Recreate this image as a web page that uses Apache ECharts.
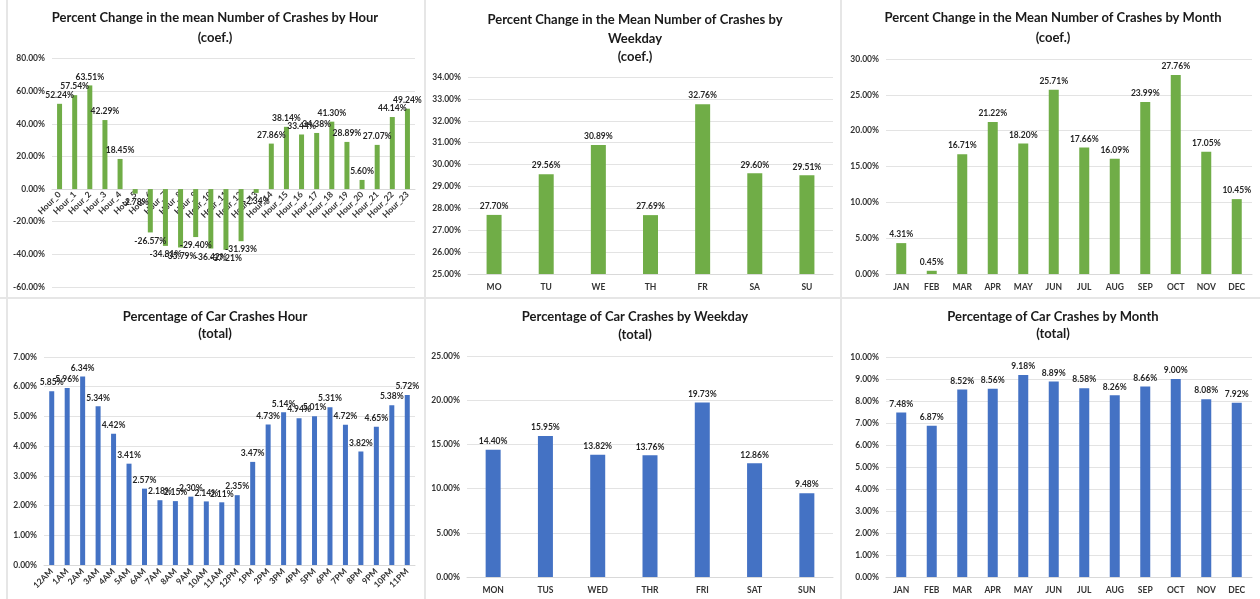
<!DOCTYPE html>
<html>
<head>
<meta charset="utf-8">
<script src="https://cdn.jsdelivr.net/npm/echarts@6/dist/echarts.min.js"></script>
<style>
html,body{margin:0;padding:0;background:#fff;}
#c{width:1260px;height:599px;}
</style>
</head>
<body>
<div id="c"></div>
<script>
const hourCoefCats = ['Hour_0','Hour_1','Hour_2','Hour_3','Hour_4','Hour_5','Hour_6','Hour_7','Hour_8','Hour_9','Hour_10','Hour_11','Hour_12','Hour_13','Hour_14','Hour_15','Hour_16','Hour_17','Hour_18','Hour_19','Hour_20','Hour_21','Hour_22','Hour_23'];
const hourCoefVals = [52.24,57.54,63.51,42.29,18.45,-2.78,-26.57,-34.81,-35.79,-29.40,-36.42,-37.21,-31.93,-2.34,27.86,38.14,33.44,34.38,41.30,28.89,5.60,27.07,44.14,49.24];
const weekdayCoefCats = ['MO','TU','WE','TH','FR','SA','SU'];
const weekdayCoefVals = [27.70,29.56,30.89,27.69,32.76,29.60,29.51];
const monthCats = ['JAN','FEB','MAR','APR','MAY','JUN','JUL','AUG','SEP','OCT','NOV','DEC'];
const monthCoefVals = [4.31,0.45,16.71,21.22,18.20,25.71,17.66,16.09,23.99,27.76,17.05,10.45];
const hourTotalCats = ['12AM','1AM','2AM','3AM','4AM','5AM','6AM','7AM','8AM','9AM','10AM','11AM','12PM','1PM','2PM','3PM','4PM','5PM','6PM','7PM','8PM','9PM','10PM','11PM'];
const hourTotalVals = [5.85,5.96,6.34,5.34,4.42,3.41,2.57,2.18,2.15,2.30,2.14,2.11,2.35,3.47,4.73,5.14,4.94,5.01,5.31,4.72,3.82,4.65,5.38,5.72];
const weekdayTotalCats = ['MON','TUS','WED','THR','FRI','SAT','SUN'];
const weekdayTotalVals = [14.40,15.95,13.82,13.76,19.73,12.86,9.48];
const monthTotalVals = [7.48,6.87,8.52,8.56,9.18,8.89,8.58,8.26,8.66,9.00,8.08,7.92];

const titles = [
  'Percent Change in the mean Number of Crashes by Hour\n(coef.)',
  'Percent Change in the Mean Number of Crashes by\nWeekday\n(coef.)',
  'Percent Change in the Mean Number of Crashes by Month\n(coef.)',
  'Percentage of Car Crashes Hour\n(total)',
  'Percentage of Car Crashes by Weekday\n(total)',
  'Percentage of Car Crashes by Month\n(total)'
];
const yMins = [-60,25,0,0,0,0];
const yMaxs = [80,34,30,7,25,10];
const yIntervals = [20,1,5,1,5,1];

const GREEN = '#70AD47', BLUE = '#4472C4';
const FONT = 'Lato, "Liberation Sans", sans-serif';
const TXT = '#333333';

const panels = [
  {cats:hourCoefCats, vals:hourCoefVals, color:GREEN, bw:5, grid:{left:52,top:58.5,width:363,height:228.5}, rotate:45, lm:4, title:{x:215,y:28,lh:20}},
  {cats:weekdayCoefCats, vals:weekdayCoefVals, color:GREEN, bw:15, grid:{left:468,top:77,width:365,height:197}, rotate:0, lm:9, title:{x:635,y:38.5,lh:18.5}},
  {cats:monthCats, vals:monthCoefVals, color:GREEN, bw:10, grid:{left:886,top:59,width:366,height:215}, rotate:0, lm:9, title:{x:1053,y:28,lh:20}},
  {cats:hourTotalCats, vals:hourTotalVals, color:BLUE, bw:5, grid:{left:44,top:357,width:371,height:208}, rotate:45, lm:5, title:{x:215,y:325,lh:17}},
  {cats:weekdayTotalCats, vals:weekdayTotalVals, color:BLUE, bw:15, grid:{left:467,top:356,width:366,height:221}, rotate:0, lm:9, title:{x:635,y:326,lh:18}},
  {cats:monthCats, vals:monthTotalVals, color:BLUE, bw:10, grid:{left:886,top:357,width:366,height:220}, rotate:0, lm:9, title:{x:1053,y:325,lh:17}}
];

const grids = [], xAxes = [], yAxes = [], series = [], graphics = [];
panels.forEach((p, i) => {
  const crossesZero = yMins[i] < 0;
  grids.push(p.grid);
  xAxes.push({
    type:'category', gridIndex:i, data:p.cats,
    axisLine:{show:!crossesZero, lineStyle:{color:'#d9d9d9', width:1}},
    axisTick:{show:false},
    axisLabel:{show:!crossesZero, interval:0, rotate:p.rotate, margin:p.lm, fontSize:8.5, fontWeight:'bold', color:TXT, fontFamily:FONT}
  });
  yAxes.push({
    type:'value', gridIndex:i, min:yMins[i], max:yMaxs[i], interval:yIntervals[i],
    axisLine:{show:false}, axisTick:{show:false},
    splitLine:{lineStyle:{color:'#e3e3e3', width:1}},
    axisLabel:{margin:7, fontSize:8.5, fontWeight:'bold', color:TXT, fontFamily:FONT,
      formatter:v => v.toFixed(2) + '%'}
  });
  series.push({
    type:'bar', xAxisIndex:i, yAxisIndex:i, barWidth:p.bw,
    itemStyle:{color:p.color},
    data:p.vals.map(v => ({value:v, label:{position: v < 0 ? 'bottom' : 'top'}})),
    label:{show:true, distance:4, fontSize:8.5, fontWeight:'bold', color:'#262626', fontFamily:FONT,
      formatter:d => d.value.toFixed(2) + '%'}
  });
  graphics.push({
    type:'text', x:p.title.x, y:p.title.y, silent:true,
    style:{text:titles[i], align:'center', verticalAlign:'middle', fontSize:13, fontWeight:'bold',
      fontFamily:FONT, fill:'#1a1a1a', lineHeight:p.title.lh}
  });
});

// Category axis drawn along the zero line of the first panel (value axis crosses zero):
// a helper grid whose bottom edge sits at value 0 of panel 0's scale.
{
  const g = panels[0].grid;
  const zeroFrac = yMaxs[0] / (yMaxs[0] - yMins[0]);
  const idx = grids.length;
  grids.push({left:g.left, top:g.top, width:g.width, height:g.height * zeroFrac});
  xAxes.push({
    type:'category', gridIndex:idx, data:hourCoefCats,
    axisLine:{show:true, lineStyle:{color:'#d9d9d9', width:1}},
    axisTick:{show:false},
    axisLabel:{interval:0, rotate:45, margin:4, fontSize:8.5, fontWeight:'bold', color:TXT, fontFamily:FONT}
  });
  yAxes.push({type:'value', gridIndex:idx, min:0, max:yMaxs[0], show:false, splitLine:{show:false}});
}

const sepColor = '#e6e6e6';
[[425,0,425,599],[841,0,841,599],[0,298,1260,298],[7,0,7,599]].forEach(s => {
  graphics.push({type:'line', silent:true, shape:{x1:s[0],y1:s[1],x2:s[2],y2:s[3]}, style:{stroke:sepColor, lineWidth:2}});
});

const chart = echarts.init(document.getElementById('c'), null, {renderer:'canvas'});
chart.setOption({
  animation:false,
  backgroundColor:'#fff',
  grid:grids, xAxis:xAxes, yAxis:yAxes, series:series, graphic:graphics
});
</script>
</body>
</html>
